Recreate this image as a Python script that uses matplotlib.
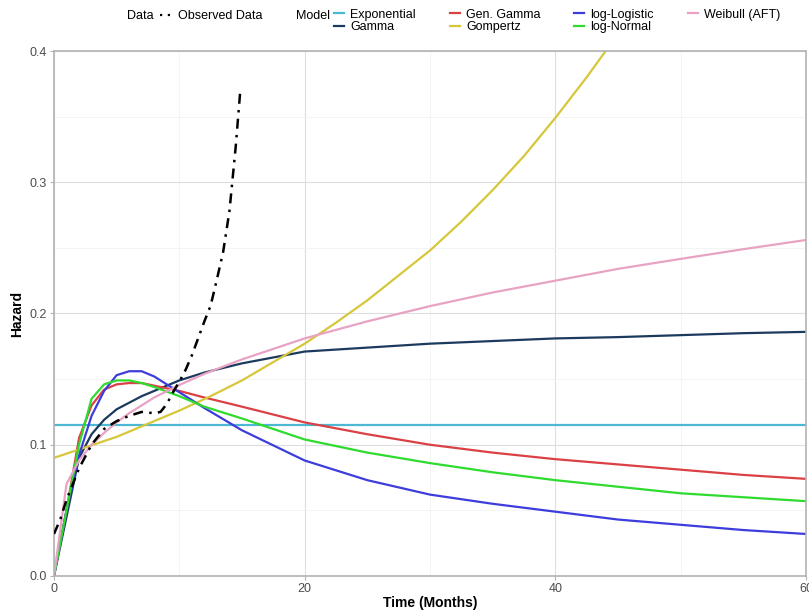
import matplotlib
matplotlib.use('Agg')
import matplotlib.pyplot as plt
from matplotlib.lines import Line2D

plt.rcParams['font.family'] = ['Liberation Sans', 'DejaVu Sans']

# 观测数据
obs_t = [0, 0.5, 1, 2, 3, 4, 5, 6, 7, 8, 8.5, 9, 9.5, 10, 10.5, 11, 11.5,
         12, 12.5, 13, 13.5, 14, 14.5, 14.85]
obs_h = [0.032, 0.043, 0.058, 0.082, 0.100, 0.112, 0.118, 0.122, 0.125, 0.124,
         0.125, 0.131, 0.140, 0.148, 0.157, 0.168, 0.181, 0.194, 0.206, 0.226,
         0.247, 0.278, 0.327, 0.368]

# 模型曲线
t = [0, 1, 2, 3, 4, 5, 6, 7, 8, 10, 12, 15, 20, 25, 30, 35, 40, 45, 50, 55, 60]
exp_t = [0, 60]
exp_h = [0.115, 0.115]
gamma_h = [0, 0.045, 0.090, 0.108, 0.119, 0.127, 0.132, 0.137, 0.141, 0.149, 0.155,
           0.162, 0.171, 0.174, 0.177, 0.179, 0.181, 0.182, 0.1835, 0.185, 0.186]
gengamma_h = [0, 0.050, 0.105, 0.130, 0.142, 0.146, 0.147, 0.147, 0.145, 0.141, 0.136,
              0.129, 0.117, 0.108, 0.100, 0.094, 0.089, 0.085, 0.081, 0.077, 0.074]
gomp_t = [0, 2.5, 5, 7.5, 10, 12.5, 15, 17.5, 20, 22.5, 25, 27.5, 30, 32.5, 35, 37.5,
          40, 42.5, 45, 47.5]
gomp_h = [0.090, 0.098, 0.106, 0.116, 0.126, 0.137, 0.149, 0.163, 0.177, 0.193, 0.210,
          0.229, 0.248, 0.270, 0.294, 0.320, 0.349, 0.380, 0.413, 0.450]
loglogis_h = [0, 0.050, 0.092, 0.122, 0.141, 0.153, 0.156, 0.156, 0.152, 0.140, 0.128,
              0.111, 0.088, 0.073, 0.062, 0.055, 0.049, 0.043, 0.039, 0.035, 0.032]
lognorm_h = [0, 0.050, 0.100, 0.135, 0.146, 0.149, 0.149, 0.147, 0.144, 0.137, 0.129,
             0.120, 0.104, 0.094, 0.086, 0.079, 0.073, 0.068, 0.063, 0.060, 0.057]
weib_h = [0, 0.070, 0.088, 0.100, 0.109, 0.117, 0.124, 0.130, 0.136, 0.1455, 0.154,
          0.165, 0.181, 0.194, 0.2056, 0.216, 0.225, 0.234, 0.2416, 0.249, 0.256]

x_ticks = [0, 20, 40, 60]
y_ticks = [0.0, 0.1, 0.2, 0.3, 0.4]
y_tick_labels = ['0.0', '0.1', '0.2', '0.3', '0.4']

C = {'Exponential': '#4DB8D4', 'Gamma': '#1C3A5E', 'Gen. Gamma': '#DB4045',
     'Gompertz': '#D6C73A', 'log-Logistic': '#3D3DDC', 'log-Normal': '#2EDB2E',
     'Weibull (AFT)': '#E8A3C4'}

fig = plt.figure(figsize=(8.09, 6.13), dpi=100)
ax = fig.add_axes([0.0667, 0.0604, 0.9296, 0.8564])

lw = 1.6
ax.plot(exp_t, exp_h, color=C['Exponential'], lw=lw)
ax.plot(t, gamma_h, color=C['Gamma'], lw=lw)
ax.plot(t, gengamma_h, color=C['Gen. Gamma'], lw=lw)
ax.plot(gomp_t, gomp_h, color=C['Gompertz'], lw=lw)
ax.plot(t, loglogis_h, color=C['log-Logistic'], lw=lw)
ax.plot(t, lognorm_h, color=C['log-Normal'], lw=lw)
ax.plot(t, weib_h, color=C['Weibull (AFT)'], lw=lw)
ax.plot(obs_t, obs_h, color='black', lw=1.8, linestyle=(0, (4, 2.5, 1, 2.5)), zorder=5)

ax.set_xlim(0, 60)
ax.set_ylim(0, 0.4)
ax.set_xticks(x_ticks)
ax.set_xticklabels([str(v) for v in x_ticks])
ax.set_yticks(y_ticks)
ax.set_yticklabels(y_tick_labels)
ax.set_xticks([10, 30, 50], minor=True)
ax.set_yticks([0.05, 0.15, 0.25, 0.35], minor=True)
ax.grid(True, which='major', color='#DEDEDE', lw=0.8)
ax.grid(True, which='minor', color='#F2F2F2', lw=0.6)
ax.set_axisbelow(True)
for s in ax.spines.values():
    s.set_color('#B3B3B3')
    s.set_linewidth(1.2)
ax.tick_params(which='major', length=3, color='#B3B3B3', labelcolor='#4D4D4D',
               labelsize=9, pad=2)
ax.tick_params(which='minor', length=0)
ax.set_xlabel('Time (Months)', fontsize=10, fontweight='bold', labelpad=1)
ax.set_ylabel('Hazard', fontsize=10, fontweight='bold', labelpad=4)

# 图例
fig.text(0.157, 0.974, 'Data', fontsize=9, va='center', ha='left')
data_h = [Line2D([], [], color='black', lw=1.6, linestyle=(0, (1, 2.5, 1, 2.5)))]
fig.legend(data_h, ['Observed Data'], loc='center left', bbox_to_anchor=(0.198, 0.974),
           frameon=False, fontsize=9, handlelength=1.0, handletextpad=0.4,
           borderaxespad=0, borderpad=0)

fig.text(0.366, 0.974, 'Model', fontsize=9, va='center', ha='left')
names = list(C.keys())
model_h = [Line2D([], [], color=C[n], lw=1.6) for n in names]
fig.legend(model_h, names, loc='center left', bbox_to_anchor=(0.413, 0.9655), ncol=4,
           frameon=False, fontsize=9, handlelength=0.8, handletextpad=0.5,
           columnspacing=2.7, labelspacing=0.05, borderaxespad=0, borderpad=0)

fig.savefig('out.png', dpi=100, facecolor='white')
